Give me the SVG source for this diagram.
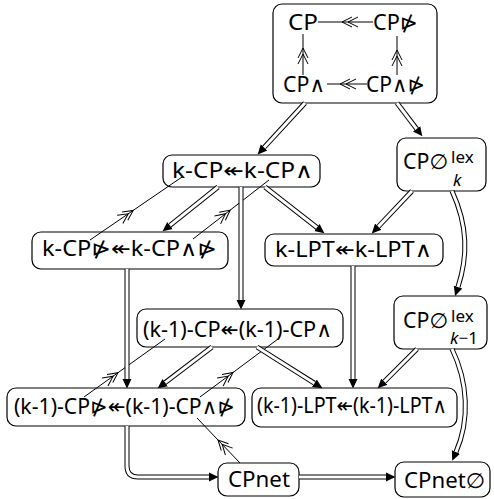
<svg xmlns="http://www.w3.org/2000/svg" width="494" height="499" viewBox="0 0 494 499">
<style>
.box{fill:#fff;stroke:#000;stroke-width:1.2}
.t{font-family:"Noto Sans","DejaVu Sans",sans-serif;font-size:21px;fill:#000}
.s{font-family:"Noto Sans","DejaVu Sans",sans-serif;font-size:17px;fill:#000}
.i{font-style:italic}
.dbk{fill:none;stroke:#000;stroke-width:5}
.dwh{fill:none;stroke:#fff;stroke-width:3}
.one{fill:none;stroke:#000;stroke-width:1}
</style>
<defs>
<marker id="ah" markerUnits="userSpaceOnUse" markerWidth="12" markerHeight="12" viewBox="0 -6 12 12" refX="0" refY="0" orient="auto">
<path d="M0,-4.5 L9.5,0 L0,4.5 z" fill="#000"/>
</marker>
<marker id="ch" markerUnits="userSpaceOnUse" markerWidth="22" markerHeight="14" viewBox="-19 -7 22 14" refX="0" refY="0" orient="auto">
<path d="M-10,-5 L0,0 L-10,5 M-16,-5 L-6,0 L-16,5" fill="none" stroke="#000" stroke-width="1"/>
</marker>
</defs>
<g id="nodes">
<g id="n_top">
<rect class="box" x="273" y="4" width="164" height="99" rx="9"/>
<text class="t" x="288" y="30" textLength="30" lengthAdjust="spacingAndGlyphs">CP</text>
<text class="t" x="373" y="30" textLength="45" lengthAdjust="spacingAndGlyphs">CP⋫</text>
<text class="t" x="283" y="92" textLength="42" lengthAdjust="spacingAndGlyphs">CP∧</text>
<text class="t" x="366" y="92" textLength="59" lengthAdjust="spacingAndGlyphs">CP∧⋫</text>
</g>
<g id="n_kcp">
<rect class="box" x="163" y="155" width="157" height="32" rx="9"/>
<text class="t" x="172" y="178" textLength="141" lengthAdjust="spacingAndGlyphs">k-CP↞k-CP∧</text>
</g>
<g id="n_cplexk">
<rect class="box" x="397" y="138" width="89" height="53" rx="9"/>
<text class="t" x="403" y="169" textLength="45" lengthAdjust="spacingAndGlyphs">CP∅</text>
<text class="s" x="451" y="163">lex</text>
<text class="s i" x="453" y="186">k</text>
</g>
<g id="n_kcpn">
<rect class="box" x="32" y="232" width="196" height="37" rx="9"/>
<text class="t" x="42" y="256" textLength="175" lengthAdjust="spacingAndGlyphs">k-CP⋫↞k-CP∧⋫</text>
</g>
<g id="n_klpt">
<rect class="box" x="265" y="234" width="178" height="32" rx="9"/>
<text class="t" x="275" y="257" textLength="157" lengthAdjust="spacingAndGlyphs">k-LPT↞k-LPT∧</text>
</g>
<g id="n_cplexk1">
<rect class="box" x="394" y="296" width="93" height="53" rx="9"/>
<text class="t" x="403" y="328" textLength="45" lengthAdjust="spacingAndGlyphs">CP∅</text>
<text class="s" x="451" y="322">lex</text>
<text class="s" x="450" y="344"><tspan class="i">k</tspan>−1</text>
</g>
<g id="n_k1cp">
<rect class="box" x="137" y="309" width="206" height="38" rx="9"/>
<text class="t" x="143" y="337" textLength="189" lengthAdjust="spacingAndGlyphs">(k-1)-CP↞(k-1)-CP∧</text>
</g>
<g id="n_k1cpn">
<rect class="box" x="7" y="388" width="238" height="38" rx="9"/>
<text class="t" x="14" y="414" textLength="221" lengthAdjust="spacingAndGlyphs">(k-1)-CP⋫↞(k-1)-CP∧⋫</text>
</g>
<g id="n_k1lpt">
<rect class="box" x="252" y="388" width="205" height="39" rx="9"/>
<text class="t" x="257" y="413" textLength="190" lengthAdjust="spacingAndGlyphs">(k-1)-LPT↞(k-1)-LPT∧</text>
</g>
<g id="n_cpnet">
<rect class="box" x="218" y="463" width="81" height="33" rx="9"/>
<text class="t" x="228" y="487" textLength="62" lengthAdjust="spacingAndGlyphs">CPnet</text>
</g>
<g id="n_cpnetempty">
<rect class="box" x="395" y="462" width="95" height="35" rx="9"/>
<text class="t" x="404" y="488" textLength="81" lengthAdjust="spacingAndGlyphs">CPnet∅</text>
</g>
</g>
<g id="connectors">
<path class="one" d="M373,22 L342,22 L318,22" marker-mid="url(#ch)"/>
<path class="one" d="M367,84 L340,84 L327,84" marker-mid="url(#ch)"/>
<path class="one" d="M303,75 L303,48 L303,34" marker-mid="url(#ch)"/>
<path class="one" d="M397,75 L397,50 L397,36" marker-mid="url(#ch)"/>
<path class="one" d="M90,240 L133.2,210.4 L182,177" marker-mid="url(#ch)"/>
<path class="one" d="M193,239 L230.2,210.1 L269,180" marker-mid="url(#ch)"/>
<path class="one" d="M84,397 L118,372.7 L165,339" marker-mid="url(#ch)"/>
<path class="one" d="M200,397 L233,372.5 L278,339" marker-mid="url(#ch)"/>
<path class="one" d="M240,463 L218,440 L197,418" marker-mid="url(#ch)"/>
<g id="d1"><path class="dbk" d="M305,103 L264.1,147.4" marker-end="url(#ah)"/><path class="dwh" d="M305,103 L264.1,147.4"/></g>
<g id="d2"><path class="dbk" d="M397,103 L416.6,128.8" marker-end="url(#ah)"/><path class="dwh" d="M397,103 L416.6,128.8"/></g>
<g id="d3"><path class="dbk" d="M218,187 L170,225.4" marker-end="url(#ah)"/><path class="dwh" d="M218,187 L170,225.4"/></g>
<g id="d4"><path class="dbk" d="M265,187 L316.9,227.5" marker-end="url(#ah)"/><path class="dwh" d="M265,187 L316.9,227.5"/></g>
<g id="d5"><path class="dbk" d="M412,191 L378.3,226.6" marker-end="url(#ah)"/><path class="dwh" d="M412,191 L378.3,226.6"/></g>
<g id="d6"><path class="dbk" d="M452,191 C468,226 468,256 458,287" marker-end="url(#ah)"/><path class="dwh" d="M452,191 C468,226 468,256 458,287"/></g>
<g id="d7"><path class="dbk" d="M241,187 L241,300" marker-end="url(#ah)"/><path class="dwh" d="M241,187 L241,300"/></g>
<g id="d8"><path class="dbk" d="M127,269 L127,379" marker-end="url(#ah)"/><path class="dwh" d="M127,269 L127,379"/></g>
<g id="d9"><path class="dbk" d="M353,266 L353,379" marker-end="url(#ah)"/><path class="dwh" d="M353,266 L353,379"/></g>
<g id="d10"><path class="dbk" d="M212,347 L165.2,382.6" marker-end="url(#ah)"/><path class="dwh" d="M212,347 L165.2,382.6"/></g>
<g id="d11"><path class="dbk" d="M257,347 L314.4,383.2" marker-end="url(#ah)"/><path class="dwh" d="M257,347 L314.4,383.2"/></g>
<g id="d12"><path class="dbk" d="M417,349 L384.4,381.6" marker-end="url(#ah)"/><path class="dwh" d="M417,349 L384.4,381.6"/></g>
<g id="d13"><path class="dbk" d="M452,349 C468,382 470,420 456,452" marker-end="url(#ah)"/><path class="dwh" d="M452,349 C468,382 470,420 456,452"/></g>
<g id="d14"><path class="dbk" d="M127,426 L127,466 Q127,477 138,477 L209,477" marker-end="url(#ah)"/><path class="dwh" d="M127,426 L127,466 Q127,477 138,477 L209,477"/></g>
<g id="d15"><path class="dbk" d="M299,477 L386,477" marker-end="url(#ah)"/><path class="dwh" d="M299,477 L386,477"/></g>
</g>
</svg>
